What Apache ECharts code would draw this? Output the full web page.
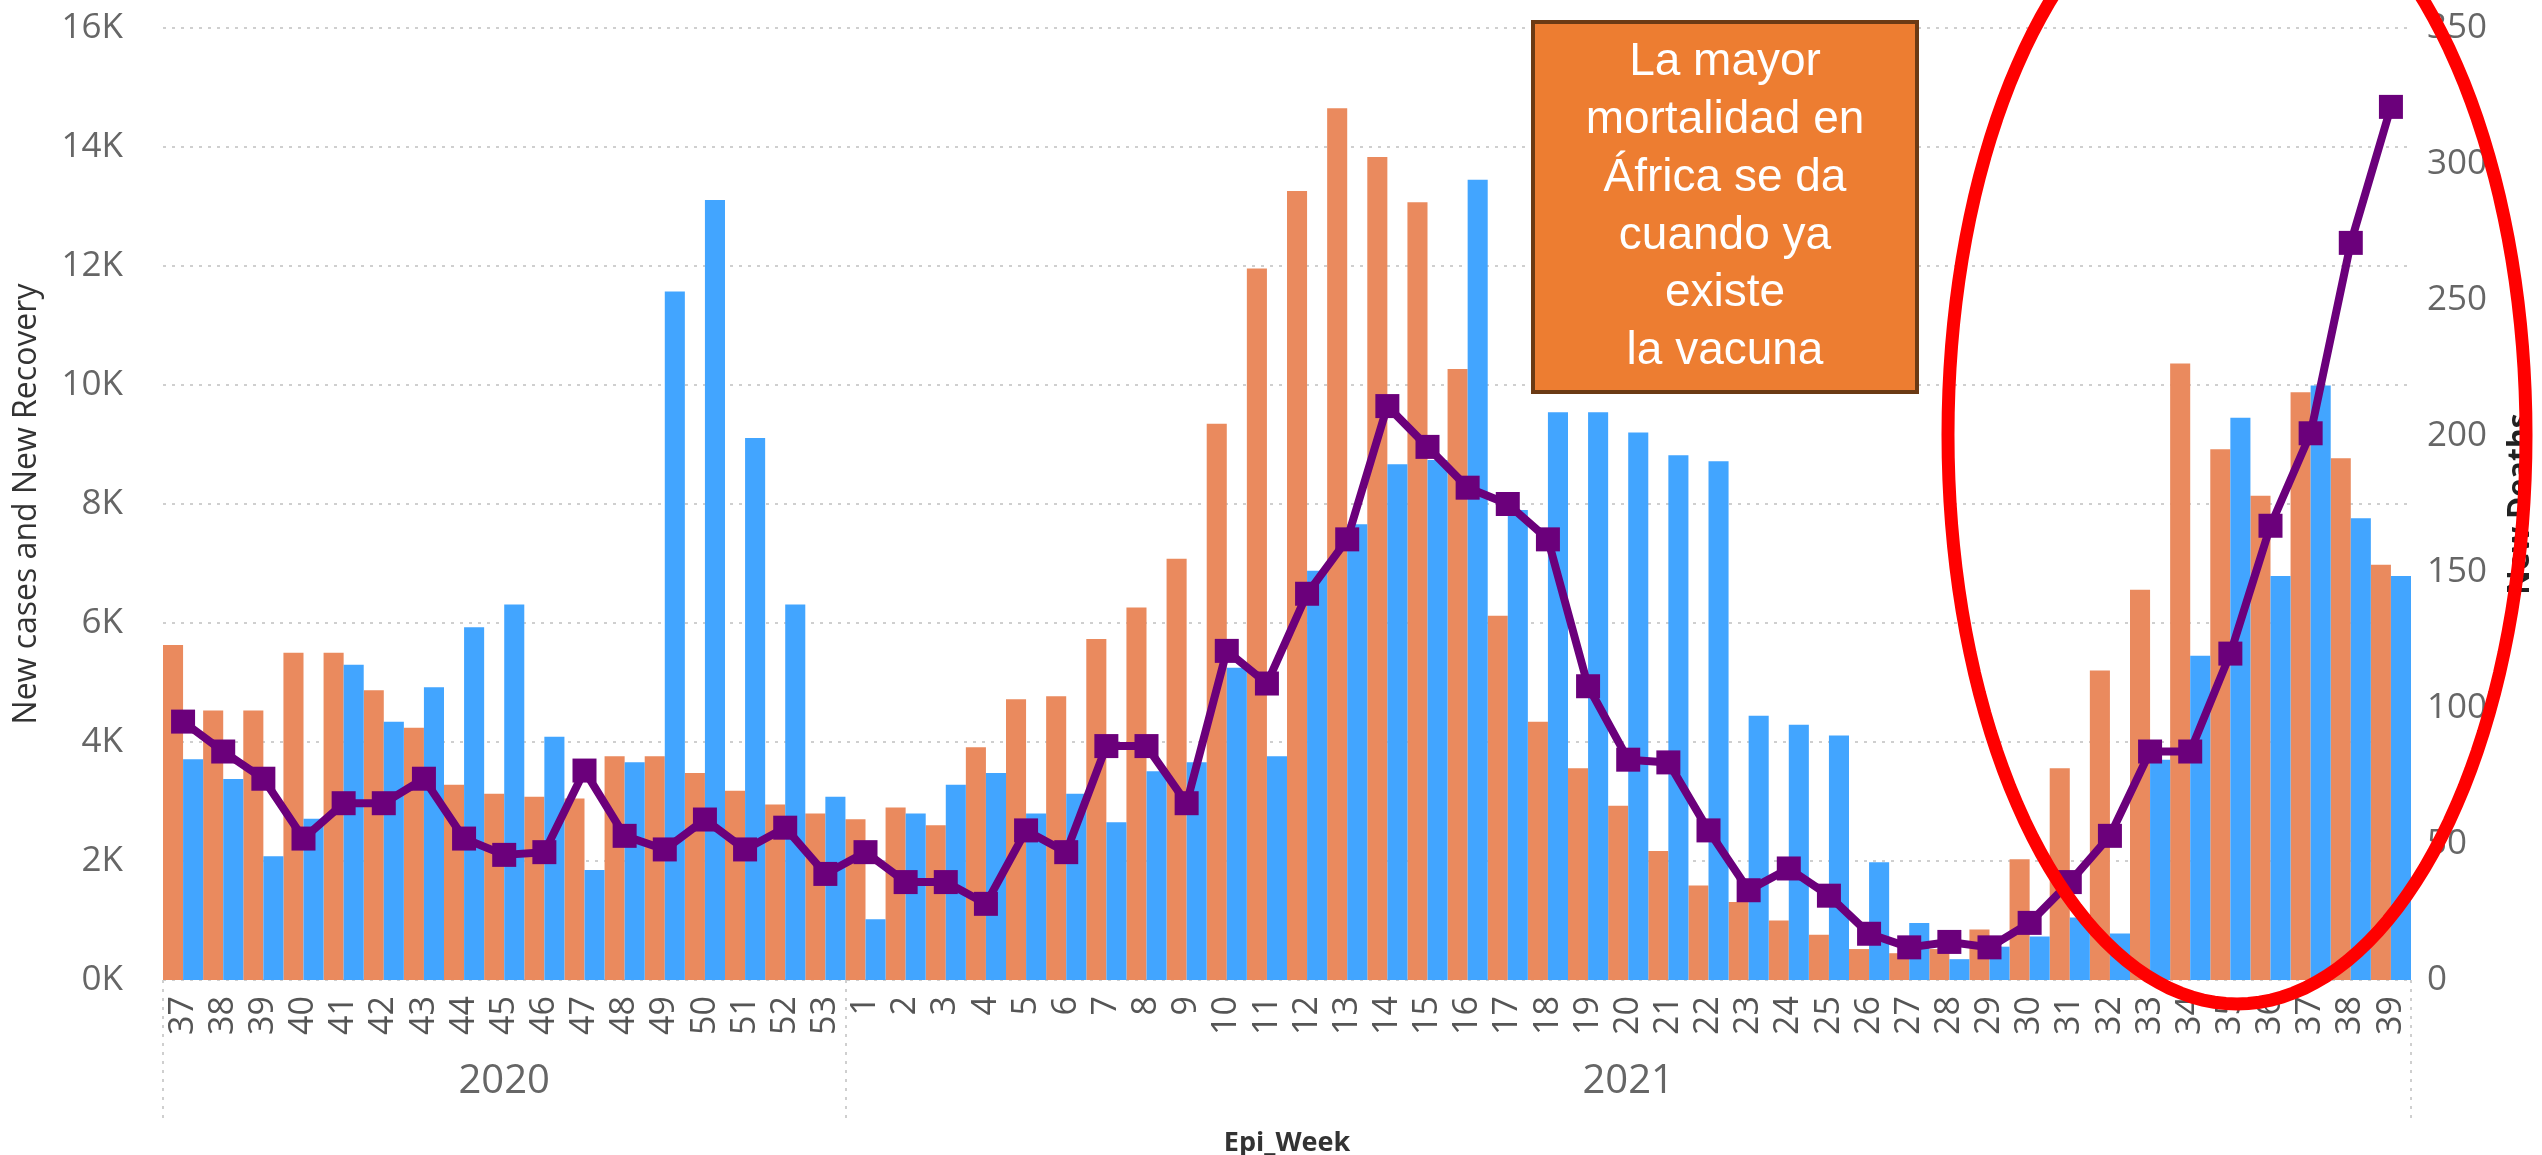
<!DOCTYPE html>
<html>
<head>
<meta charset="utf-8">
<title>Epi_Week</title>
<script src="https://cdn.jsdelivr.net/npm/echarts@6/dist/echarts.min.js"></script>
<style>
  html, body { margin: 0; padding: 0; background: #fff; }
  #chart { width: 2542px; height: 1155px; }
</style>
</head>
<body>
<div id="chart"></div>
<script>
// semanas epidemiologicas
const weeks2020 = [37, 38, 39, 40, 41, 42, 43, 44, 45, 46, 47, 48, 49, 50, 51, 52, 53];
const weeks2021 = [1, 2, 3, 4, 5, 6, 7, 8, 9, 10, 11, 12, 13, 14, 15, 16, 17, 18, 19, 20,
  21, 22, 23, 24, 25, 26, 27, 28, 29, 30, 31, 32, 33, 34, 35, 36, 37, 38, 39];

// New cases (naranja)
const newCases = [
  5630, 4530, 4530, 5500, 5500, 4870, 4240, 3280, 3130, 3080, 3050, 3760, 3760, 3480, 3180, 2950, 2800,
  2700, 2900, 2600, 3910, 4720, 4770, 5730, 6260, 7080, 9350, 11960, 13260, 14650, 13830, 13070, 10270,
  6120, 4340, 3560, 2930, 2170, 1590, 1310, 1000, 760, 520, 450, 520, 850, 2030, 3560, 5200, 6560,
  10360, 8920, 8140, 9880, 8770, 6980
];
// New Recovery (azul)
const newRecovery = [
  3710, 3380, 2080, 2710, 5300, 4340, 4920, 5930, 6310, 4090, 1850, 3660, 11570, 13110, 9110, 6310, 3080,
  1020, 2800, 3280, 3480, 2800, 3130, 2650, 3510, 3660, 5250, 3760, 6880, 7660, 8670, 8740, 13450,
  7900, 9540, 9540, 9200, 8820, 8720, 4440, 4290, 4110, 1980, 960, 350, 560, 730, 1050, 780, 3700,
  5450, 9450, 6790, 9990, 7760, 6790
];
// New Deaths (linea morada)
const newDeaths = [
  95, 84, 74, 52, 65, 65, 74, 52, 46, 47, 77, 53, 48, 59, 48, 56, 39,
  47, 36, 36, 28, 55, 47, 86, 86, 65, 121, 109, 142, 162, 211, 196, 181,
  175, 162, 108, 81, 80, 55, 33, 41, 31, 17, 12, 14, 12, 21, 36, 53, 84,
  84, 120, 167, 201, 271, 321
];

const casesTicks = [0, 2000, 4000, 6000, 8000, 10000, 12000, 14000, 16000];
const deathsTicks = [0, 50, 100, 150, 200, 250, 300, 350];

const noteLines = ['La mayor', 'mortalidad en', 'África se da', 'cuando ya', 'existe', 'la vacuna'];

const categories = weeks2020.map(w => '2020-' + w).concat(weeks2021.map(w => '2021-' + w));
const yearStart = [0, weeks2020.length];
const yearMid = [Math.floor(weeks2020.length / 2), weeks2020.length + Math.floor(weeks2021.length / 2)];

const labelFont = 'Open Sans';

// elipse roja de resaltado
const ellipse = [];
for (let k = 0; k < 160; k++) {
  const t = k / 160 * Math.PI * 2;
  ellipse.push([2237 + 289 * Math.cos(t), 435 + 569 * Math.sin(t)]);
}

const myChart = echarts.init(document.getElementById('chart'));

const option = {
  animation: false,
  backgroundColor: '#fff',
  grid: { left: 163, right: 131, top: 28, bottom: 175, outerBoundsMode: 'none' },
  xAxis: [
    {
      type: 'category',
      data: categories,
      name: 'Epi_Week',
      nameLocation: 'middle',
      nameGap: 150,
      nameTextStyle: { fontFamily: labelFont, fontWeight: 'bold', fontSize: 27, color: '#333' },
      axisLine: { show: false },
      axisTick: { show: false },
      axisLabel: {
        interval: 0,
        rotate: 90,
        margin: 16,
        fontFamily: labelFont,
        fontSize: 34,
        color: '#555',
        formatter: v => v.split('-')[1]
      }
    },
    {
      // eje de los anios
      type: 'category',
      data: categories,
      position: 'bottom',
      axisLine: { show: false },
      axisTick: {
        show: true,
        interval: i => yearStart.indexOf(i) >= 0,
        length: 140,
        lineStyle: { color: '#cfcfcf', width: 2, type: [3, 6] }
      },
      axisLabel: {
        interval: i => yearMid.indexOf(i) >= 0,
        margin: 82,
        fontFamily: labelFont,
        fontSize: 40,
        color: '#666',
        formatter: v => v.split('-')[0]
      }
    }
  ],
  yAxis: [
    {
      type: 'value',
      min: casesTicks[0],
      max: casesTicks[casesTicks.length - 1],
      interval: casesTicks[1] - casesTicks[0],
      name: 'New cases and New Recovery',
      nameLocation: 'middle',
      nameRotate: 90,
      nameGap: 120,
      nameTextStyle: { fontFamily: labelFont, fontSize: 32, color: '#333' },
      axisLine: { show: false },
      axisTick: { show: false },
      axisLabel: {
        margin: 40,
        fontFamily: labelFont,
        fontSize: 35,
        color: '#666',
        formatter: v => (v / 1000) + 'K'
      },
      splitLine: { lineStyle: { color: '#cfcfcf', width: 2, type: [3, 6] } }
    },
    {
      type: 'value',
      position: 'right',
      min: deathsTicks[0],
      max: deathsTicks[deathsTicks.length - 1],
      interval: deathsTicks[1] - deathsTicks[0],
      name: 'New Deaths',
      nameLocation: 'middle',
      nameRotate: 90,
      nameGap: 94,
      nameTextStyle: { fontFamily: labelFont, fontWeight: 'bold', fontSize: 30, color: '#222' },
      axisLine: { show: false },
      axisTick: { show: false },
      axisLabel: { margin: 16, fontFamily: labelFont, fontSize: 35, color: '#666' },
      splitLine: { show: false }
    }
  ],
  series: [
    {
      name: 'New cases',
      type: 'bar',
      data: newCases,
      barGap: '0%',
      barCategoryGap: '0%',
      itemStyle: { color: '#EA8A5E' }
    },
    {
      name: 'New Recovery',
      type: 'bar',
      data: newRecovery,
      barGap: '0%',
      barCategoryGap: '0%',
      itemStyle: { color: '#42A5FF' }
    },
    {
      name: 'New Deaths',
      type: 'line',
      yAxisIndex: 1,
      data: newDeaths,
      symbol: 'rect',
      symbolSize: 24,
      lineStyle: { color: '#6B007B', width: 8 },
      itemStyle: { color: '#6B007B' },
      z: 5
    }
  ],
  graphic: [
    {
      type: 'rect',
      shape: { x: 1533, y: 22, width: 384, height: 370 },
      style: { fill: '#ED7D31', stroke: '#6B3A14', lineWidth: 4 },
      z: 100
    },
    {
      type: 'text',
      x: 1725,
      y: 207,
      style: {
        text: noteLines.join('\n'),
        align: 'center',
        verticalAlign: 'middle',
        fontFamily: 'Liberation Sans',
        fontSize: 46,
        lineHeight: 57.7,
        fill: '#fff'
      },
      z: 101
    },
    {
      type: 'polygon',
      shape: { points: ellipse },
      style: { fill: 'none', stroke: '#FF0000', lineWidth: 13 },
      z: 102
    }
  ]
};

myChart.setOption(option);
window.addEventListener('resize', () => myChart.resize());
</script>
</body>
</html>
